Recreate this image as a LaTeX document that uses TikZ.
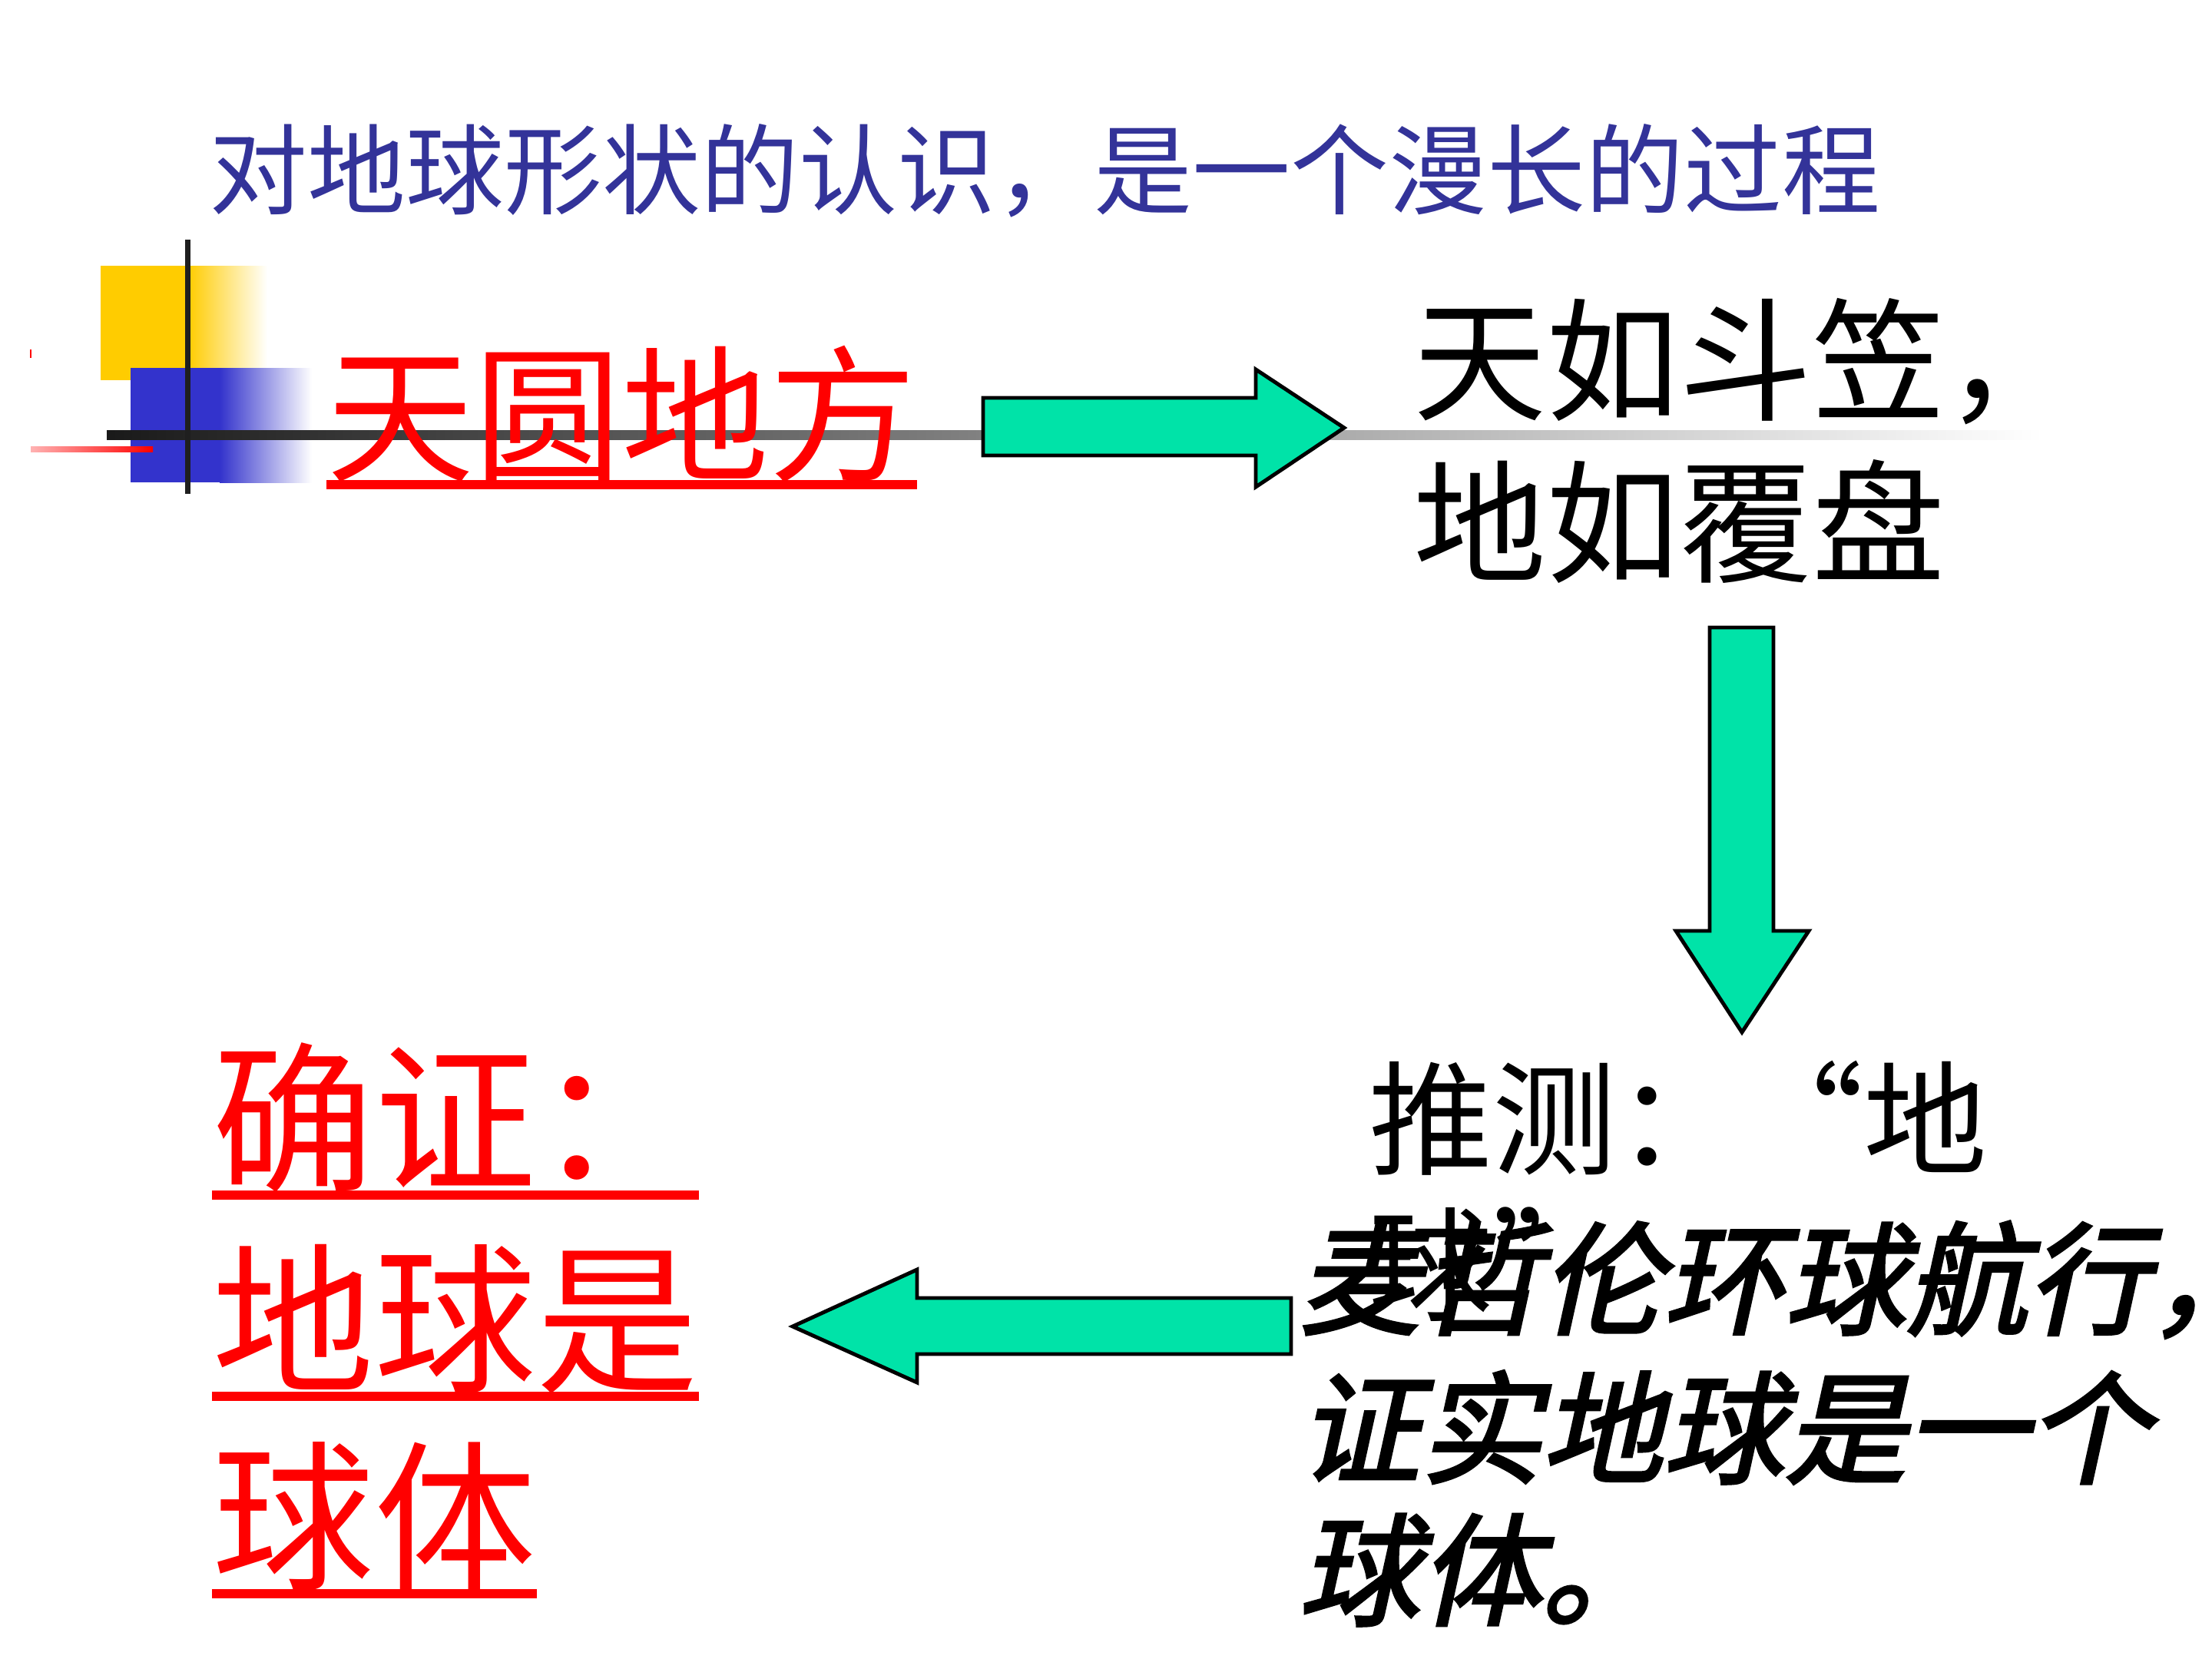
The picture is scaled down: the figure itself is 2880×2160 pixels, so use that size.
\documentclass[tikz,border=0pt]{standalone}
\usepackage{fontspec}
\newfontfamily\cjk{Noto Sans CJK SC}
\newfontfamily\cjkslant[FakeSlant=0.22,FakeBold=2.5]{Noto Sans CJK SC}
\definecolor{titleblue}{HTML}{333399}
\definecolor{arrowgreen}{HTML}{00E3A8}
\definecolor{boxyellow}{HTML}{FFCC00}
\definecolor{boxblue}{HTML}{3333CC}

\begin{document}
\begin{tikzpicture}[x=0.01cm,y=-0.01cm,
    txt/.style={inner sep=0pt,anchor=base west},
    redul/.style={red,line width=3.3pt},
    blockarrow/.style={fill=arrowgreen,draw=black,line width=1.4pt,line join=miter}]
  \useasboundingbox[fill=white](0,0) rectangle (2880,2160);
  % corner decoration
  \fill[boxyellow](131,346) rectangle (245,495);
  \shade[left color=boxyellow,right color=white](245,346) rectangle (348,495);
  \fill[boxblue](170,479) rectangle (286,628);
  \shade[left color=boxblue,right color=white](286,479) rectangle (406,628);
  \shade[left color=black!90,middle color=black!40,right color=white](139,560) rectangle (2660,572);
  \fill[black!88](241,312) rectangle (248,643);
  \shade[left color=red!30,right color=red](40,581) rectangle (199,588);
  \draw[red,line width=0.8pt](40,455)--(40,466);
  % title
  \node[txt,text=titleblue,font=\cjk\fontsize{36.4}{40}\selectfont](title) at (272,269){对地球形状的认识，是一个漫长的过程};
  % first idea
  \node[txt,text=red,font=\cjk\fontsize{54.6}{60}\selectfont](tyd) at (425,612){天圆地方};
  \draw[redul,line width=3.4pt]([yshift=-5.4pt]tyd.base west)--([yshift=-5.4pt]tyd.base east);
  \node[txt,font=\cjk\fontsize{49.2}{60}\selectfont](sky1) at (1840,534){天如斗笠，};
  \node[txt,font=\cjk\fontsize{49.2}{60}\selectfont](sky2) at (1840,745){地如覆盘};
  % guess and proof
  \node[txt,font=\cjk\fontsize{45.8}{54}\selectfont](guess1) at (1782,1517){推测：“地};
  \node[txt,font=\cjk\fontsize{45.8}{54}\selectfont](guess2) at (1782,1707){球”};
  \node[txt,font=\cjkslant\fontsize{45}{53}\selectfont](trip1) at (1690,1725){麦哲伦环球航行，};
  \node[txt,font=\cjkslant\fontsize{45}{53}\selectfont](trip2) at (1690,1919){证实地球是一个};
  \node[txt,font=\cjkslant\fontsize{45}{53}\selectfont](trip3) at (1690,2104){球体。};
  \foreach \n/\y/\t in {proof1/1535/确证：,proof2/1797/地球是,proof3/2054/球体}{
    \node[txt,text=red,font=\cjk\fontsize{60}{73}\selectfont](\n) at (276,\y){\t};
    \draw[redul]([yshift=-6pt]\n.base west)--([yshift=-6pt]\n.base east);
  }
  % arrows
  \draw[blockarrow](1280,518)--(1635,518)--(1635,481)--(1750,557)--(1635,634)--(1635,593)--(1280,593)--cycle;
  \draw[blockarrow](2226,817)--(2309,817)--(2309,1212)--(2355,1212)--(2268,1344)--(2182,1212)--(2226,1212)--cycle;
  \draw[blockarrow](1681,1690)--(1194,1690)--(1194,1653)--(1032,1727)--(1194,1800)--(1194,1763)--(1681,1763)--cycle;
\end{tikzpicture}
\end{document}
